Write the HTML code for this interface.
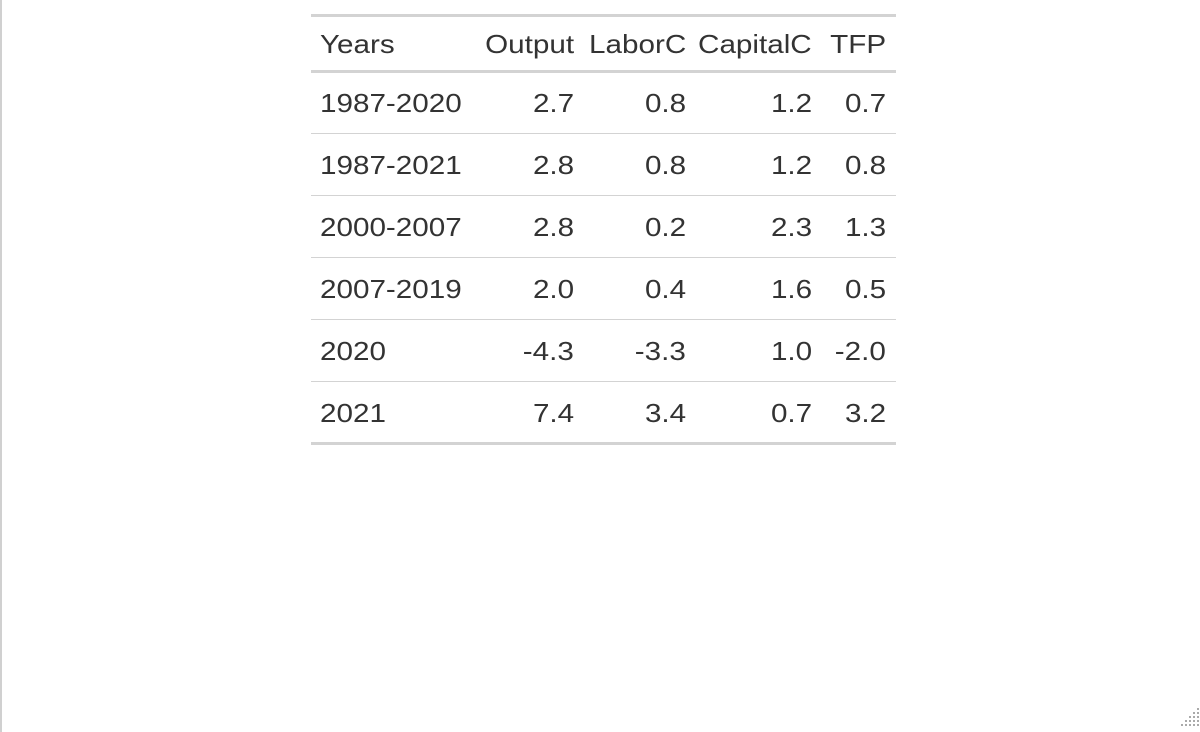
<!DOCTYPE html>
<html><head><meta charset="utf-8"><style>
body{margin:0;width:1200px;height:732px;background:#fff;position:relative;overflow:hidden;font-family:"Liberation Sans",Arial,sans-serif;color:#333;}
#lb{position:absolute;left:0;top:0;width:2px;height:732px;background:#d0d0d0}
.ln{position:absolute;left:311px;width:585px;background:#d3d3d3}
.c{position:absolute;font-size:26px;line-height:30px;white-space:nowrap;transform:scaleX(1.14);transform-origin:left center}
.r{text-align:right;transform-origin:right center}
</style></head><body>
<div id="lb"></div>
<div id="tbl"></div>
<svg style="position:absolute;left:1172px;top:700px" width="28" height="32">
<g fill="#aaa"><rect x="25" y="8" width="2" height="2"/><rect x="21" y="12" width="2" height="2"/><rect x="25" y="12" width="2" height="2"/><rect x="17" y="16" width="2" height="2"/><rect x="21" y="16" width="2" height="2"/><rect x="25" y="16" width="2" height="2"/><rect x="13" y="20" width="2" height="2"/><rect x="17" y="20" width="2" height="2"/><rect x="21" y="20" width="2" height="2"/><rect x="25" y="20" width="2" height="2"/><rect x="9" y="24" width="2" height="2"/><rect x="13" y="24" width="2" height="2"/><rect x="17" y="24" width="2" height="2"/><rect x="21" y="24" width="2" height="2"/><rect x="25" y="24" width="2" height="2"/></g></svg>
<script>
const headers=["Years","Output","LaborC","CapitalC","TFP"];
const years=["1987-2020","1987-2021","2000-2007","2007-2019","2020","2021"];
const output=["2.7","2.8","2.8","2.0","-4.3","7.4"];
const laborC=["0.8","0.8","0.2","0.4","-3.3","3.4"];
const capitalC=["1.2","1.2","2.3","1.6","1.0","0.7"];
const tfp=["0.7","0.8","1.3","0.5","-2.0","3.2"];
const cols=[years,output,laborC,capitalC,tfp];
const rights=[null,574,686,812,886];
const tbl=document.getElementById('tbl');
function line(y,h,name){const d=document.createElement('div');d.className='ln';d.style.top=y+'px';d.style.height=h+'px';


tbl.appendChild(d);}
function cell(txt,ci,cy,name){const d=document.createElement('div');d.className='c';d.textContent=txt;d.style.top=(cy-15)+'px';
if(ci===0){d.style.left='320px';}else{d.className='c r';d.style.right=(1200-rights[ci])+'px';}


tbl.appendChild(d);}
line(14,3,'table-top-rule');
line(70,3,'header-rule');
headers.forEach((h,i)=>cell(h,i,44,'header-'+h.toLowerCase()));
years.forEach((y,r)=>{const cy=103+r*62;
cols.forEach((col,ci)=>cell(col[r],ci,cy,'cell-'+headers[ci].toLowerCase()+'-'+y));
if(r<years.length-1)line(133+r*62,1,'row-rule');});
line(442,3,'table-bottom-rule');
</script>
</body></html>
